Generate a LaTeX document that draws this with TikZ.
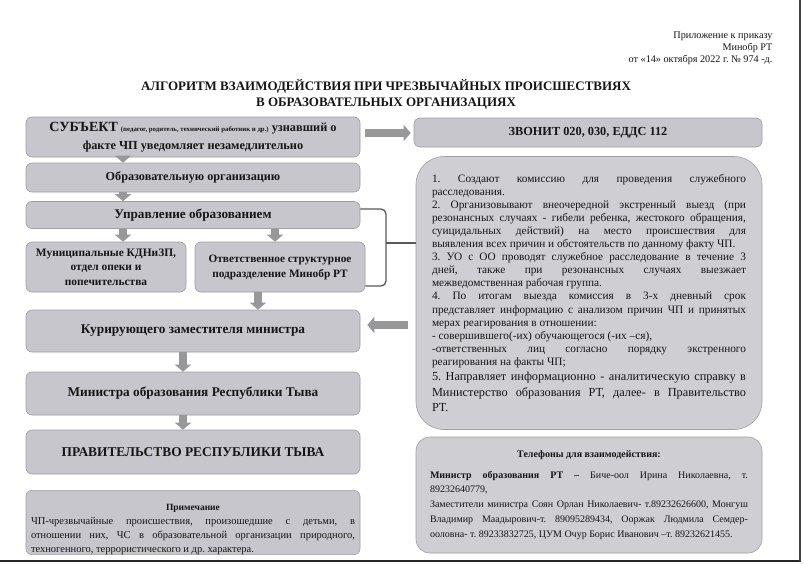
\documentclass[tikz,border=0pt]{standalone}
\usepackage{fontspec}
\setmainfont{Liberation Serif}
\usetikzlibrary{arrows.meta}
\definecolor{boxc}{RGB}{198,198,204}
\definecolor{boxb}{RGB}{158,158,164}
\definecolor{bigc}{RGB}{206,206,211}
\definecolor{arrc}{RGB}{152,152,155}
\definecolor{txt}{RGB}{22,22,22}
\newcommand\jl[1]{\makebox[\hsize][s]{\spaceskip=0pt\xspaceskip=0pt #1}\\}
\begin{document}
\frenchspacing
\begin{tikzpicture}[x=1pt,y=-1pt,
  fb/.style={draw=boxb, fill=boxc, line width=0.6pt, rounded corners=6pt, inner sep=0pt, align=center, text=txt, font=\bfseries},
  blk/.style={draw=arrc, line width=8pt, -{Triangle[width=16pt,length=7pt]}},
  brk/.style={draw=black!65, line width=1.3pt, rounded corners=5pt}]
\useasboundingbox (0,0) rectangle (804,565);
\fill[white] (0,0) rectangle (804,565);
% scan border lines
\draw[line width=2.6pt, black!85] (0,561) -- (801,561);
\draw[line width=1.6pt, black!75] (800,0) -- (800,561);

\node[anchor=east, align=right, text=txt, font=\fontsize{10.2}{12.2}\selectfont] (hdr) at (776,48) {Приложение к приказу\\Минобр РТ\\от «14» октября 2022 г. № 974 -д.};
\node[align=center, text=txt, font=\bfseries\fontsize{13}{16}\selectfont] (title) at (386,94) {АЛГОРИТМ ВЗАИМОДЕЙСТВИЯ ПРИ ЧРЕЗВЫЧАЙНЫХ ПРОИСШЕСТВИЯХ\\В ОБРАЗОВАТЕЛЬНЫХ ОРГАНИЗАЦИЯХ};

\node[fb, minimum width=334pt, minimum height=40pt, font=\bfseries\fontsize{12.3}{17.5}\selectfont] (subj) at (193,137)
  {{\fontsize{14}{17}\selectfont СУБЪЕКТ} {\fontsize{6.8}{8}\selectfont (педагог, родитель, технический работник и др.)} узнавший о\\факте ЧП уведомляет незамедлительно};
\node[fb, minimum width=348pt, minimum height=29pt, font=\bfseries\fontsize{12.3}{16}\selectfont] (zvon) at (588,132.5) {ЗВОНИТ 020, 030, ЕДДС 112};
\node[fb, minimum width=334pt, minimum height=29pt, font=\bfseries\fontsize{12.2}{14}\selectfont] (obr) at (193,177.5) {Образовательную организацию};
\node[fb, minimum width=334pt, minimum height=27pt, font=\bfseries\fontsize{13.2}{15}\selectfont] (upr) at (193,215) {Управление образованием};
\node[fb, minimum width=160pt, minimum height=50pt, font=\bfseries\fontsize{11.4}{14.5}\selectfont] (mun) at (106,267) {Муниципальные КДНиЗП,\\отдел опеки и\\попечительства};
\node[fb, minimum width=170pt, minimum height=50pt, font=\bfseries\fontsize{11.3}{15}\selectfont] (otv) at (280,267) {Ответственное структурное\\подразделение Минобр РТ};
\node[fb, minimum width=334pt, minimum height=42pt, font=\bfseries\fontsize{13.3}{15}\selectfont] (kur) at (193,331) {Курирующего заместителя министра};
\node[fb, minimum width=334pt, minimum height=43pt, font=\bfseries\fontsize{13.3}{15}\selectfont] (min) at (193,393.5) {Министра образования Республики Тыва};
\node[fb, minimum width=334pt, minimum height=44pt, font=\bfseries\fontsize{13.4}{15}\selectfont] (prav) at (193,452) {ПРАВИТЕЛЬСТВО РЕСПУБЛИКИ ТЫВА};

\node[fb, minimum width=334pt, minimum height=61pt, text width=324pt, align=left, font=\mdseries\fontsize{10.5}{14}\selectfont] (note) at (193,522.5)
  {\spaceskip=0pt\xspaceskip=0pt
   \makebox[\hsize][c]{\rule{0pt}{20pt}\bfseries\fontsize{9.5}{12}\selectfont Примечание}\\
   \jl{ЧП-чрезвычайные происшествия, произошедшие с детьми, в}
   \jl{отношении них, ЧС в образовательной организации природного,}
   техногенного, террористического и др. характера.};

\node[fb, fill=bigc, rounded corners=28pt, minimum width=346pt, minimum height=273pt, text width=314pt, align=left, font=\mdseries] (big) at (589,293)
  {\spaceskip=0pt\xspaceskip=0pt
   {\fontsize{11.3}{13.1}\selectfont
   \jl{1. Создают комиссию для проведения служебного}
   расследования.\\
   \jl{2. Организовывают внеочередной экстренный выезд (при}
   \jl{резонансных случаях - гибели ребенка, жестокого обращения,}
   \jl{суицидальных действий) на место происшествия для}
   выявления всех причин и обстоятельств по данному факту ЧП.\\
   \jl{3. УО с ОО проводят служебное расследование в течение 3}
   \jl{дней, также при резонансных случаях выезжает}
   межведомственная рабочая группа.\\
   \jl{4. По итогам выезда комиссия в 3-х дневный срок}
   \jl{представляет информацию с анализом причин ЧП и принятых}
   мерах реагирования в отношении:\\
   - совершившего(-их) обучающегося (-их –ся),\\
   \jl{-ответственных лиц согласно порядку экстренного}
   реагирования на факты ЧП;\par}
  {\fontsize{12.3}{15.5}\selectfont
   \jl{5. Направляет информационно - аналитическую справку в}
   \jl{Министерство образования РТ, далее- в Правительство}
   РТ.\par}};

\node[fb, fill=bigc, rounded corners=14pt, minimum width=346pt, minimum height=116pt, text width=318pt, align=left, font=\mdseries\fontsize{10}{14.8}\selectfont] (phone) at (589,495)
  {\spaceskip=0pt\xspaceskip=0pt
   \makebox[\hsize][c]{\bfseries Телефоны для взаимодействия:}\\[6pt]
   \jl{\textbf{Министр образования РТ –} Биче-оол Ирина Николаевна, т.}
   89232640779,\\
   \jl{Заместители министра Соян Орлан Николаевич- т.89232626600, Монгуш}
   \jl{Владимир Маадырович-т. 89095289434, Ооржак Людмила Семдер-}
   ооловна- т. 89233832725, ЦУМ Очур Борис Иванович –т. 89232621455.};

% arrow guide coordinates
\coordinate (xa) at (123,0);
\coordinate (xb) at (275,0);
\coordinate (xc) at (258,0);
\coordinate (xd) at (183,0);
\coordinate (ya) at (0,133);
\coordinate (yk) at (0,325);
\draw[blk] (subj.south -| xa) -- (obr.north -| xa);
\draw[blk] (obr.south -| xa) -- (upr.north -| xa);
\draw[blk] (upr.south -| xa) -- (mun.north -| xa);
\draw[blk] (upr.south -| xb) -- (otv.north -| xb);
\draw[blk] (otv.south -| xc) -- (kur.north -| xc);
\draw[blk] (kur.south -| xd) -- (min.north -| xd);
\draw[blk] (min.south -| xd) -- (prav.north -| xd);
\draw[blk, shorten <=5pt, shorten >=3pt] (subj.east |- ya) -- (zvon.west |- ya);
\draw[blk, shorten <=8pt, shorten >=7pt] (big.west |- yk) -- (kur.east |- yk);

% bracket
\coordinate (bt) at (386,209);
\coordinate (bb) at (386,286);
\coordinate (bm) at (386,243);
\draw[brk] (upr.east |- bt) -- (bt) -- (bb) -- (otv.east |- bb);
\draw[brk] (bm) -- (big.west |- bm);
\end{tikzpicture}
\end{document}
